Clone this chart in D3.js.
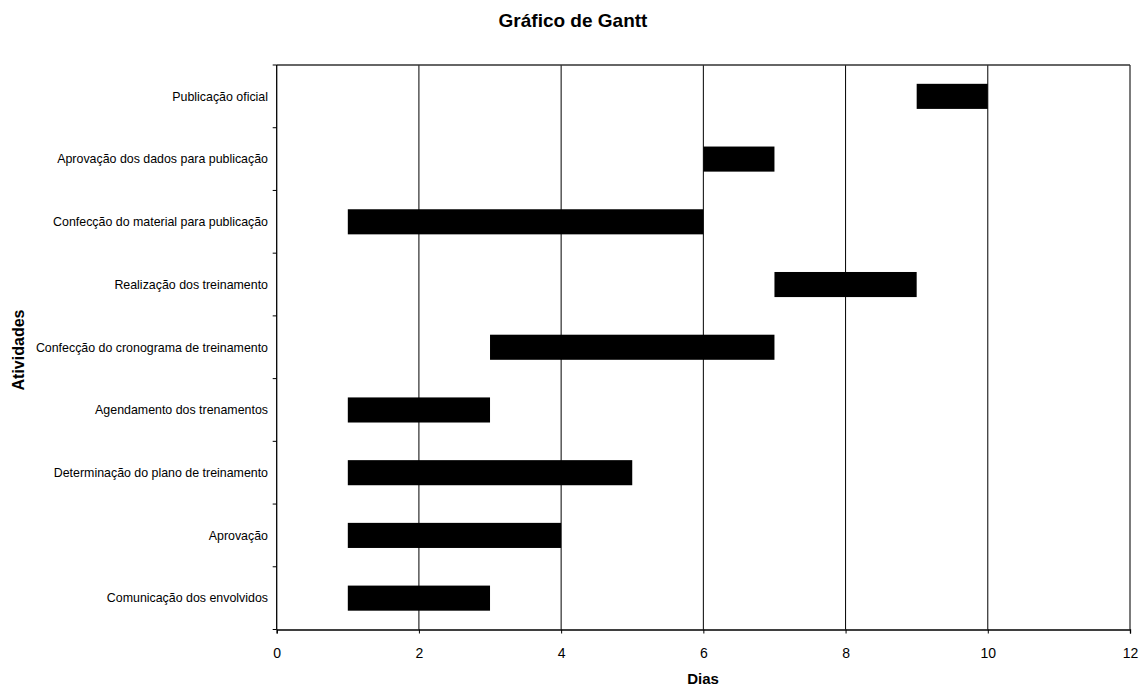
<!DOCTYPE html>
<html><head><meta charset="utf-8">
<script src="https://cdn.jsdelivr.net/npm/d3@7"></script>
<style>body{margin:0;background:#fff}svg{display:block;font-family:"Liberation Sans",Arial,sans-serif}</style>
</head><body>
<svg id="c" width="1145" height="688"></svg>
<script>
const categories = ["Comunicação dos envolvidos","Aprovação ","Determinação do plano de treinamento","Agendamento dos trenamentos","Confecção do cronograma de treinamento","Realização dos treinamento","Confecção do material para publicação","Aprovação dos dados para publicação","Publicação oficial"];
const starts = [1,1,1,1,3,7,1,6,9];
const ends =   [3,4,5,3,7,9,6,7,10];
const xTicks = [0,2,4,6,8,10,12];

const svg = d3.select("#c");
const L=276.7, R=1130, T=65, B=629.5;
const x = d3.scaleLinear().domain([0,12]).range([L,R]);
const y = d3.scaleBand().domain(categories.slice().reverse()).range([T,B]).paddingInner(0.6).paddingOuter(0.3);
const yb = d3.scaleBand().domain(categories.slice().reverse()).range([T,B]);

// gridlines
svg.append("g").selectAll("line").data(xTicks.filter(d=>d>0&&d<12)).join("line")
  .attr("x1",d=>x(d)).attr("x2",d=>x(d)).attr("y1",T).attr("y2",B)
  .attr("stroke","#000").attr("stroke-width",1);
// border
svg.append("line").attr("x1",L).attr("x2",R).attr("y1",T).attr("y2",T).attr("stroke","#333").attr("stroke-width",1.3);
svg.append("line").attr("x1",R).attr("x2",R).attr("y1",T).attr("y2",B).attr("stroke","#333").attr("stroke-width",1.3);

// bars
svg.append("g").selectAll("rect").data(categories).join("rect")
  .attr("x",(d,i)=>x(starts[i])).attr("width",(d,i)=>x(ends[i])-x(starts[i]))
  .attr("y",d=>y(d)).attr("height",y.bandwidth()).attr("fill","#000");

// x axis
const xa = svg.append("g").attr("transform",`translate(0,${B})`)
  .call(d3.axisBottom(x).tickValues(xTicks).tickSize(4).tickPadding(15).tickFormat(d3.format("d")));
xa.select(".domain").attr("stroke","#000").attr("stroke-width",1.3);
xa.selectAll("text").attr("font-size",14).attr("font-family","Liberation Sans, Arial").attr("fill","#000");

// y axis
svg.append("line").attr("x1",L).attr("x2",L).attr("y1",T).attr("y2",B).attr("stroke","#000").attr("stroke-width",1.3);
const bounds = categories.map(c=>yb(c)).concat([B]);
svg.append("g").selectAll("line").data(bounds).join("line")
  .attr("x1",L-4).attr("x2",L).attr("y1",d=>d).attr("y2",d=>d).attr("stroke","#000");
svg.append("g").selectAll("text").data(categories).join("text")
  .attr("x",268).attr("y",d=>yb(d)+yb.bandwidth()/2).attr("dy","0.35em")
  .attr("text-anchor","end").attr("font-size",12.4).text(d=>d);

svg.append("text").attr("x",573).attr("y",27).attr("text-anchor","middle").attr("font-size",19).attr("font-weight","bold").text("Gráfico de Gantt");
svg.append("text").attr("x",703).attr("y",684).attr("text-anchor","middle").attr("font-size",15).attr("font-weight","bold").text("Dias");
svg.append("text").attr("transform","translate(24,350) rotate(-90)").attr("text-anchor","middle").attr("font-size",16).attr("font-weight","bold").text("Atividades");
</script>
</body></html>
